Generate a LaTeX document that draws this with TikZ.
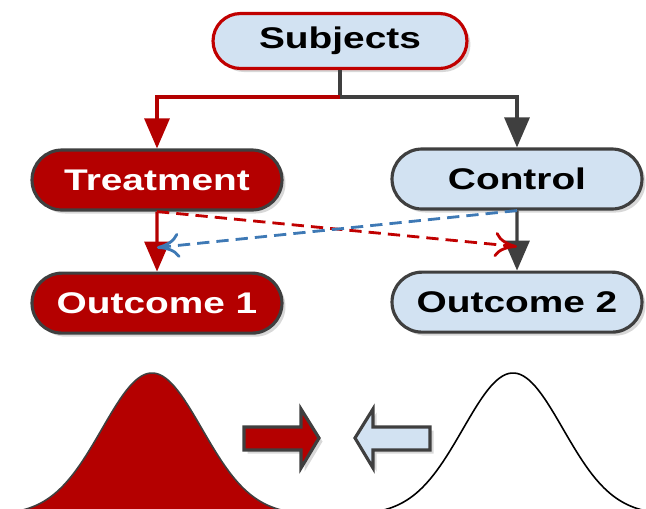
\documentclass[tikz,border=0pt]{standalone}
\usepackage{fontspec}
\newfontfamily\boxfont{Liberation Sans}[FakeStretch=1.3]
\usetikzlibrary{positioning,shapes.misc,arrows.meta,calc,shadows}
\definecolor{ink}     {HTML}{3F3F3F}
\definecolor{blood}   {HTML}{B40000}
\definecolor{ice}     {HTML}{D2E2F2}
\definecolor{dashred} {HTML}{C00000}
\definecolor{dashblue}{HTML}{3E79B5}
\tikzset{
  % --- nodes
  pill/.style  = {rounded rectangle, draw=ink, line width=1.8pt, fill=ice,
                  minimum width=5cm, minimum height=1.2cm, inner sep=0pt,
                  font=\boxfont\bfseries\fontsize{17}{20}\selectfont,
                  drop shadow={shadow xshift=2pt, shadow yshift=-2pt, fill=black!30}},
  top/.style   = {pill, draw=dashred, minimum width=5.08cm, minimum height=1.1cm},
  arm/.style   = {pill, fill=blood, text=white},
  % --- edges
  e/.style     = {-{Triangle[length=6mm,width=5mm]}, line width=1.8pt, draw=ink},
  er/.style    = {e, draw=blood},
  cross/.style = {-{Computer Modern Rightarrow[length=4.5mm,width=5mm]}, line width=1.6pt,
                  dash pattern=on 7pt off 4pt},
  big/.style   = {draw=ink, line width=1.8pt,
                  drop shadow={shadow xshift=2pt, shadow yshift=-2pt, fill=black!30}},
}

\begin{document}
\begin{tikzpicture}[x=0.02cm, y=-0.02cm]
  \useasboundingbox (0,0) rectangle (646,508);
  \clip (0,0) rectangle (646,508);

  \node[top] (subj)  at (340,41)  {Subjects};
  \node[arm] (treat) at (157,180) {Treatment};
  \node[pill] (ctrl) at (517,179) {Control};
  \node[arm]  (out1) [below=1.2cm of treat] {Outcome 1};
  \node[pill] (out2) [below=1.2cm of ctrl]  {Outcome 2};

  \coordinate (split) at (subj.south |- 0,97);
  \draw[line width=1.8pt, ink] (subj.south) -- (split);
  \draw[er] (split) -| (treat.north);
  \draw[e]  (split) -| (ctrl.north);
  \draw[er] (treat) -- (out1);
  \draw[e]  (ctrl) -- (out2);

  % crossing dashed arrows
  \coordinate (hitL) at ($(treat.south)+(0,36)$);
  \coordinate (hitR) at ($(ctrl.south)+(0,36)$);
  \draw[cross, dashred]  (treat.south) -- (hitR);
  \draw[cross, dashblue] (ctrl.south) -- (hitL);

  % the two distributions
  \fill[blood] (20,520) -- plot[domain=20:290, samples=90]
    (\x,{515-142*exp(-0.5*((\x-152)/50)^2)}) -- (290,520) -- cycle;
  \draw[ink, line width=0.9pt] plot[domain=20:290, samples=90]
    (\x,{515-142*exp(-0.5*((\x-152)/50)^2)});
  \draw[black, line width=0.9pt] plot[domain=380:646, samples=90]
    (\x,{515-142*exp(-0.5*((\x-513)/50)^2)});

  \draw[big, fill=blood] (244,427) -- (301,427) -- (301,409) -- (319,438)
    -- (301,468) -- (301,450) -- (244,450) -- cycle;
  \draw[big, fill=ice] (430,427) -- (373,427) -- (373,409) -- (355,438)
    -- (373,468) -- (373,450) -- (430,450) -- cycle;
\end{tikzpicture}
\end{document}
